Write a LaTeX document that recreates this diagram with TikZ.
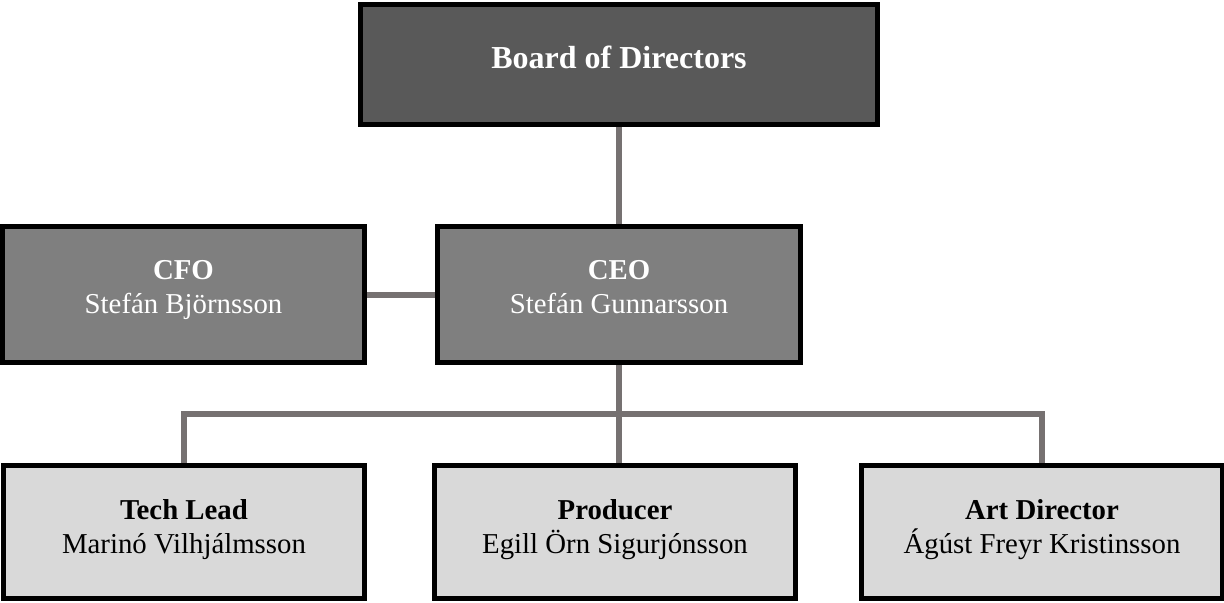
\documentclass[tikz,border=0pt]{standalone}
\usepackage{fontspec}
\setmainfont{Liberation Serif}
\usetikzlibrary{backgrounds,calc}
\definecolor{BoardGray}{HTML}{595959}
\definecolor{ExecGray}{HTML}{7F7F7F}
\definecolor{LeadGray}{HTML}{D9D9D9}
\definecolor{Wire}{HTML}{767171}
\tikzset{
  orgbox/.style={
    draw=black, line width=2.5pt, inner xsep=0pt, inner ysep=0pt,
    align=center, anchor=base, font=\fontsize{14.4}{17}\selectfont
  },
  topbox/.style={
    orgbox, fill=BoardGray, text=white, minimum width=258.5pt,
    text height=32pt, text depth=28pt,
    font=\fontsize{16}{19}\selectfont\bfseries
  },
  execbox/.style={
    orgbox, fill=ExecGray, text=white,
    text height=43.25pt, text depth=24.75pt
  },
  leadbox/.style={
    orgbox, fill=LeadGray, text=black, minimum width=180.5pt,
    text height=43.75pt, text depth=22.75pt
  },
  wire/.style={draw=Wire, line width=3pt}
}

\begin{document}
\begin{tikzpicture}[x=0.5pt,y=-0.5pt]
    \useasboundingbox (0,0) rectangle (1224,602);
    \node[topbox] (board) at (619,68.5) {Board of Directors};
    \node[execbox,minimum width=181pt] (cfo) at (183.5,313) {\textbf{CFO}\\Stefán Björnsson};
    \node[execbox,minimum width=181.5pt] (ceo) at (619,313) {\textbf{CEO}\\Stefán Gunnarsson};
    \node[leadbox] (tech) at (184,553) {\textbf{Tech Lead}\\Marinó Vilhjálmsson};
    \node[leadbox] (prod) at (615,553) {\textbf{Producer}\\Egill Örn Sigurjónsson};
    \node[leadbox] (art) at (1042,553) {\textbf{Art Director}\\Ágúst Freyr Kristinsson};
    \coordinate (bus) at ($(ceo.south)!0.5!(ceo.south |- prod.north)$);
    \begin{pgfonlayer}{background}
      \draw[wire] (board.south) -- (ceo.north);
      \draw[wire] (cfo.east) -- (ceo.west);
      \draw[wire] (ceo.south) -- (ceo.south |- prod.north);
      \draw[wire] (tech.north) |- (bus) -| (art.north);
    \end{pgfonlayer}
  \end{tikzpicture}
\end{document}
